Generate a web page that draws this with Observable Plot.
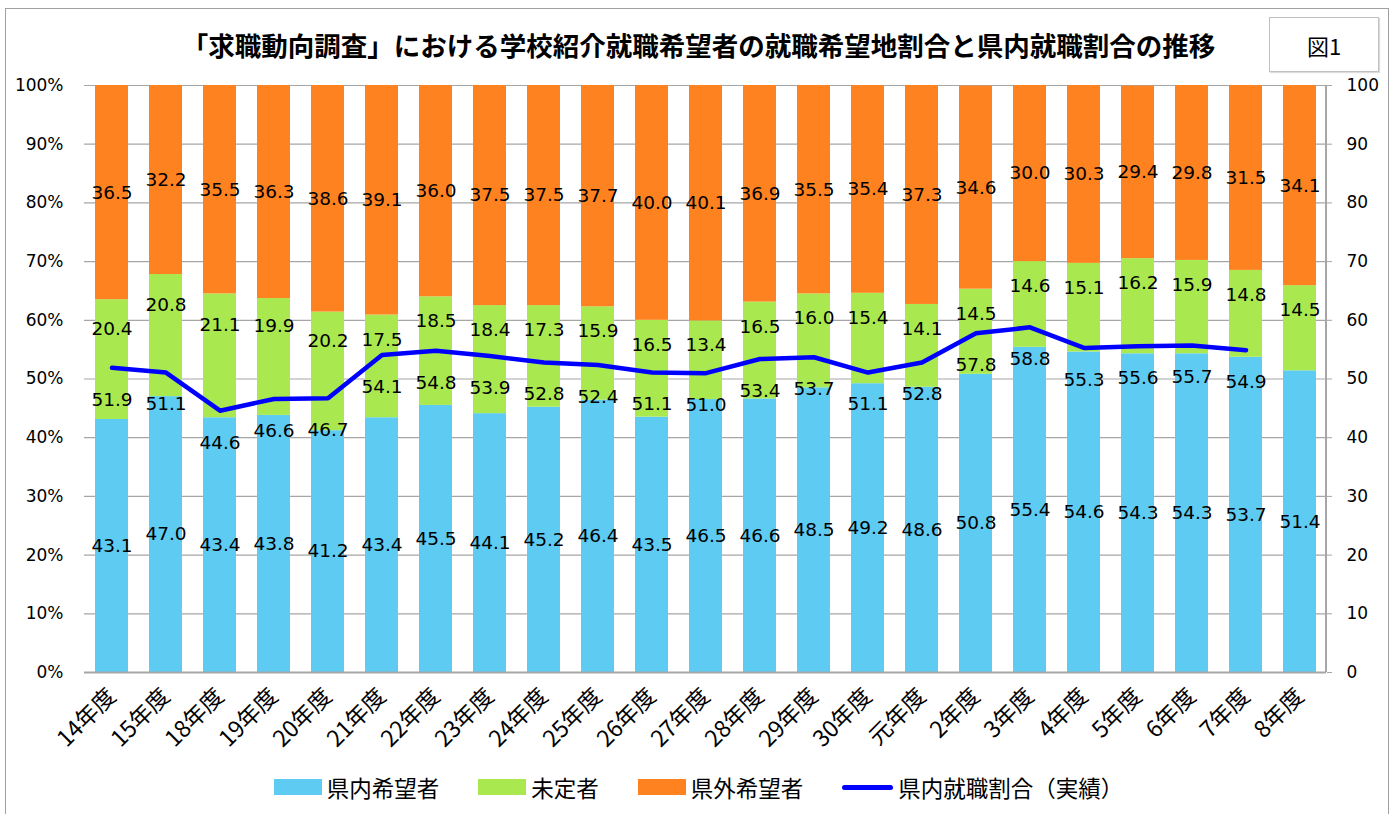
<!DOCTYPE html>
<html>
<head>
<meta charset="utf-8">
<script src="https://cdn.jsdelivr.net/npm/d3@7"></script>
<script src="https://cdn.jsdelivr.net/npm/@observablehq/plot@0.6"></script>
<style>
  html, body { margin: 0; padding: 0; background: #fff; }
  #wrap { position: relative; width: 1397px; height: 814px; overflow: hidden; font-family: "Noto Sans CJK JP", "Noto Sans", sans-serif; }
  #border { position: absolute; left: 5px; top: 8px; width: 1384px; height: 830px; border: 1.5px solid #a0a0a0; box-sizing: border-box; }
  #title { position: absolute; left: 0; width: 1397px; top: 27px; text-align: center; font-size: 26.5px; font-weight: bold; color: #000; line-height: 36px; }
  #fig { position: absolute; left: 1269px; top: 17px; width: 110px; height: 55px; border: 1.5px solid #c0c0c0; box-sizing: border-box; display: flex; align-items: center; justify-content: center; font-size: 22px; color: #000; box-shadow: 1px 1px 1px #ddd; }
  #chart { position: absolute; left: 0; top: 0; }
  #legend { position: absolute; left: 0; width: 1397px; top: 770px; height: 34px; display: flex; justify-content: center; align-items: center; gap: 39px; font-size: 22.5px; color: #000; }
  .item { display: flex; align-items: center; gap: 5px; }
  .sw { width: 48px; height: 16px; }
  .ln { width: 51px; height: 5px; border-radius: 3px; }
</style>
</head>
<body>
<div id="wrap">
  <div id="border"></div>
  <div id="chart"></div>
  <div id="title"></div>
  <div id="fig">図1</div>
  <div id="legend"></div>
</div>
<script>
const categories = ["14年度","15年度","18年度","19年度","20年度","21年度","22年度","23年度","24年度","25年度","26年度","27年度","28年度","29年度","30年度","元年度","2年度","3年度","4年度","5年度","6年度","7年度","8年度"];
const inPrefHope = [43.1,47.0,43.4,43.8,41.2,43.4,45.5,44.1,45.2,46.4,43.5,46.5,46.6,48.5,49.2,48.6,50.8,55.4,54.6,54.3,54.3,53.7,51.4];
const undecided  = [20.4,20.8,21.1,19.9,20.2,17.5,18.5,18.4,17.3,15.9,16.5,13.4,16.5,16.0,15.4,14.1,14.5,14.6,15.1,16.2,15.9,14.8,14.5];
const outPrefHope = [36.5,32.2,35.5,36.3,38.6,39.1,36.0,37.5,37.5,37.7,40.0,40.1,36.9,35.5,35.4,37.3,34.6,30.0,30.3,29.4,29.8,31.5,34.1];
const inPrefActual = [51.9,51.1,44.6,46.6,46.7,54.1,54.8,53.9,52.8,52.4,51.1,51.0,53.4,53.7,51.1,52.8,57.8,58.8,55.3,55.6,55.7,54.9,null];
const seriesNames = ["県内希望者","未定者","県外希望者"];
const lineName = "県内就職割合（実績）";
const yTicks = [0,10,20,30,40,50,60,70,80,90,100];
const titleText = "「求職動向調査」における学校紹介就職希望者の就職希望地割合と県内就職割合の推移";

const colors = ["#5ecbf3", "#a9e94f", "#ff8221"];
const lineColor = "#0000ff";

document.getElementById("title").textContent = titleText;

// long table for stacked bars
const seriesValues = [inPrefHope, undecided, outPrefHope];
const bars = [];
categories.forEach((c, i) => {
  seriesNames.forEach((s, k) => bars.push({cat: c, series: s, value: seriesValues[k][i]}));
});

// label positions derived from values
const blueLabels = categories.map((c, i) => ({cat: c, y: inPrefHope[i] / 2, t: inPrefHope[i].toFixed(1)}));
const greenLabels = categories.map((c, i) => {
  const top = inPrefHope[i] + undecided[i];
  const center = inPrefHope[i] + undecided[i] / 2;
  return {cat: c, y: Math.min(top - 4.2, center + 5.2), t: undecided[i].toFixed(1)};
});
const orangeLabels = categories.map((c, i) => ({cat: c, y: inPrefHope[i] + undecided[i] + outPrefHope[i] / 2, t: outPrefHope[i].toFixed(1)}));
const lineData = categories.map((c, i) => ({cat: c, value: inPrefActual[i]})).filter(d => d.value != null);

const labelFont = "'DejaVu Sans', 'Open Sans', sans-serif";
const lf = 18.5;

const plot = Plot.plot({
  width: 1397,
  height: 814,
  marginTop: 85,
  marginBottom: 142,
  marginLeft: 84,
  marginRight: 71,
  style: {fontFamily: labelFont, fontSize: "17px", color: "#000", background: "transparent"},
  x: {domain: categories, paddingInner: 0.39, paddingOuter: 0.195, label: null},
  y: {domain: [0, 100], label: null},
  color: {domain: seriesNames, range: colors},
  marks: [
    Plot.gridY(yTicks, {stroke: "#a6a6a6", strokeOpacity: 1, strokeWidth: 1.2}),
    Plot.barY(bars, {x: "cat", y: "value", fill: "series"}),
    Plot.ruleY([0], {stroke: "#a6a6a6", strokeWidth: 2}),
    Plot.lineY(lineData, {x: "cat", y: "value", stroke: lineColor, strokeWidth: 4.5, strokeLinejoin: "round"}),
    Plot.text(blueLabels, {x: "cat", y: "y", text: "t", fontSize: lf, fill: "#000", fontFamily: labelFont}),
    Plot.text(greenLabels, {x: "cat", y: "y", text: "t", fontSize: lf, fill: "#000", fontFamily: labelFont}),
    Plot.text(orangeLabels, {x: "cat", y: "y", text: "t", fontSize: lf, fill: "#000", fontFamily: labelFont}),
    Plot.text(lineData, {x: "cat", y: "value", text: d => d.value.toFixed(1), dy: 32, fontSize: lf, fill: "#000", fontFamily: labelFont}),
    Plot.axisY(yTicks, {anchor: "left", tickSize: 0, tickPadding: 21, tickFormat: d => d + "%", fontSize: 17, fill: "#000"}),
    Plot.axisY(yTicks, {anchor: "right", tickSize: 5, tickPadding: 15, stroke: "#a6a6a6", fontSize: 17, fill: "#000"}),
    Plot.axisX({tickRotate: -45, tickSize: 0, tickPadding: 20, fontSize: 23, fill: "#000", fontFamily: "'Noto Sans CJK JP', sans-serif"})
  ]
});

// right axis line, from the scales
const xr = plot.scale("x").range, yr = plot.scale("y").range;
d3.select(plot).append("line")
  .attr("x1", xr[1]).attr("x2", xr[1])
  .attr("y1", yr[0]).attr("y2", yr[1])
  .attr("stroke", "#a6a6a6").attr("stroke-width", 2);

document.getElementById("chart").appendChild(plot);

// legend
const legend = document.getElementById("legend");
seriesNames.forEach((s, k) => {
  const it = document.createElement("div"); it.className = "item";
  const sw = document.createElement("div"); sw.className = "sw"; sw.style.background = colors[k];
  const tx = document.createElement("span"); tx.textContent = s;
  it.appendChild(sw); it.appendChild(tx); legend.appendChild(it);
});
{
  const it = document.createElement("div"); it.className = "item";
  const sw = document.createElement("div"); sw.className = "ln"; sw.style.background = lineColor;
  const tx = document.createElement("span"); tx.textContent = lineName;
  it.appendChild(sw); it.appendChild(tx); legend.appendChild(it);
}
</script>
</body>
</html>
